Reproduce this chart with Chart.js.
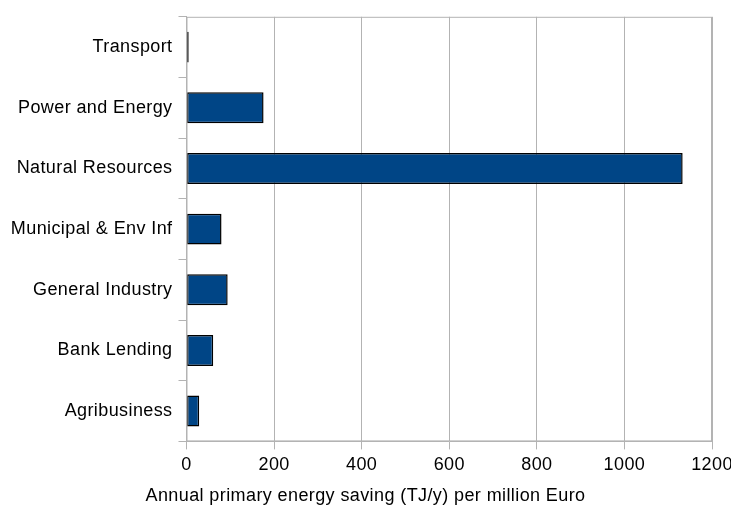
<!DOCTYPE html>
<html>
<head>
<meta charset="utf-8">
<script src="https://cdn.jsdelivr.net/npm/chart.js@4/dist/chart.umd.min.js"></script>
<style>
  html, body { margin: 0; padding: 0; background: #fff; }
  #wrap { width: 731px; height: 507px; position: relative; }
</style>
</head>
<body>
<div id="wrap"><canvas id="c"></canvas></div>
<script>
/* energy saving per sector – horizontal bars */

const sectors = ['Transport', 'Power and Energy', 'Natural Resources', 'Municipal & Env Inf',
                 'General Industry', 'Bank Lending', 'Agribusiness'];
const savings = [5, 176, 1133, 80, 94, 61, 29];
const xTicks  = [0, 200, 400, 600, 800, 1000, 1200];
const xTitle  = 'Annual primary energy saving (TJ/y) per million Euro';

const GRID = '#b3b3b3';
const FONT = { family: '"Liberation Sans", Arial, sans-serif', size: 18 };

/* the reference text is a bit spaced out, set it before measuring and drawing */
const spacing = {
  id: 'spacing',
  beforeLayout(chart) { chart.ctx.letterSpacing = '0.4px'; },
  beforeDraw(chart)   { chart.ctx.letterSpacing = '0.4px'; },
};

/* LibreOffice style frame around the plot area */
const frame = {
  id: 'frame',
  afterDraw(chart) {
    const { ctx, chartArea: a } = chart;
    ctx.save();
    ctx.strokeStyle = GRID;
    ctx.lineWidth = 1;
    ctx.strokeRect(a.left + 0.5, a.top + 0.5, a.right - a.left - 1, a.bottom - a.top - 1);
    ctx.restore();
  },
};

new Chart(document.getElementById('c'), {
  type: 'bar',
  data: {
    labels: sectors,
    datasets: [{
      data: savings,
      backgroundColor: '#004586',
      borderColor: '#000',
      borderWidth: 1.5,
      borderSkipped: false,
      categoryPercentage: 0.51,
      barPercentage: 1,
    }],
  },
  options: {
    indexAxis: 'y',
    responsive: true,
    maintainAspectRatio: false,
    animation: false,
    layout: { padding: { left: 0, right: 0, top: 15, bottom: 0 } },
    plugins: {
      legend: { display: false },
      tooltip: { enabled: false },
      title: {
        display: true, position: 'bottom', text: xTitle, color: '#000',
        font: { ...FONT, weight: 'normal' }, padding: { top: 0, bottom: 0 },
      },
    },
    scales: {
      x: {
        min: 0, max: 1200,
        afterBuildTicks: s => { s.ticks = xTicks.map(v => ({ value: v })); },
        afterFit: s => { s.height = 44; s.paddingRight = 19; s.paddingLeft = 0; },
        ticks: { color: '#000', font: FONT, padding: 5, callback: v => String(v) },
        grid: { color: GRID, tickLength: 8 },
        border: { color: GRID },
      },
      y: {
        afterFit: s => { s.width = 186.5; },
        ticks: { color: '#000', font: FONT, padding: 6 },
        grid: { color: GRID, tickLength: 8, drawOnChartArea: false, offset: true },
        border: { color: GRID },
      },
    },
  },
  plugins: [spacing, frame],
});
</script>
</body>
</html>
